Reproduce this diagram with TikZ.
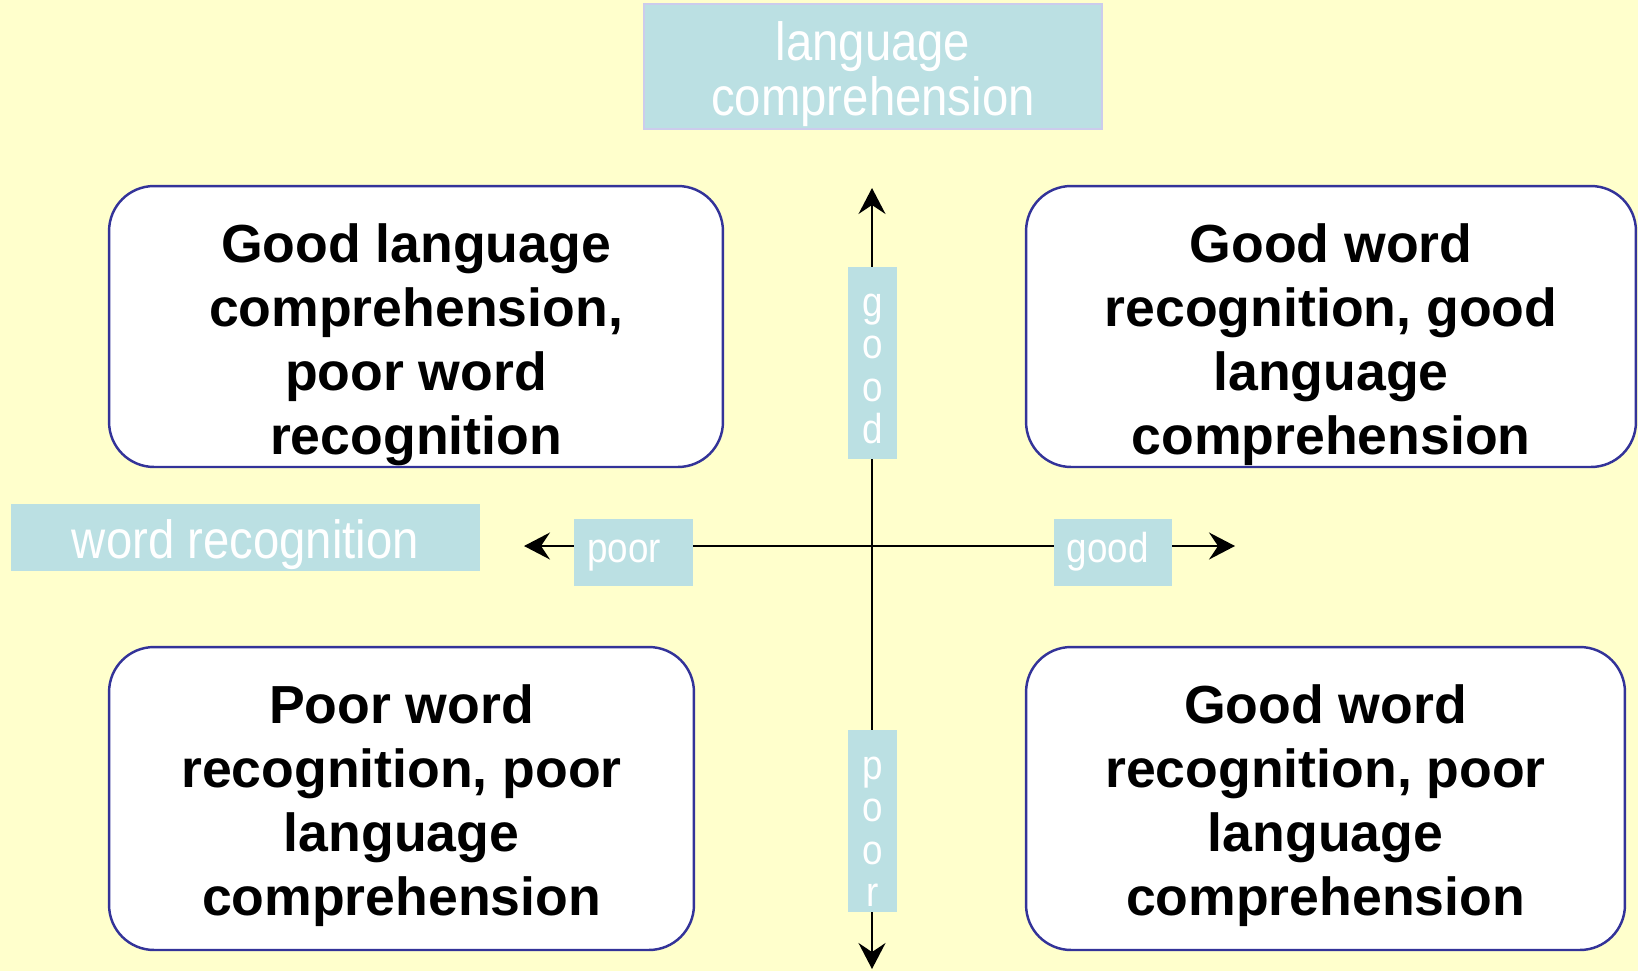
\documentclass[tikz,border=0pt]{standalone}
\usepackage{fontspec}
\setmainfont{Liberation Sans}
\newfontfamily\labelfont[FakeStretch=0.88]{Liberation Sans}
\usetikzlibrary{arrows.meta,positioning}
\definecolor{bgyellow}{RGB}{255,255,204}
\definecolor{labelblue}{RGB}{187,224,227}
\definecolor{labelline}{RGB}{204,204,236}
\definecolor{quadline}{RGB}{51,51,153}
\tikzset{%
    >={Stealth[length=0.52cm,width=0.54cm,inset=0.18cm]},
    % boxes of the four quadrants
    quad-box/.style = {
        rectangle, rounded corners=0.9cm, draw=quadline, line width=1.4pt,
        fill=white
    },
    quad-text/.style = {
        anchor=north, inner sep=0pt, align=center, text=black,
        font=\fontsize{30.5}{36.3}\selectfont\bfseries
    },
    % light blue labels
    blue-tag/.style = {
        rectangle, fill=labelblue, text=white, inner sep=0pt
    },
    axis-tag/.style = {
        blue-tag, text width=1.85cm, inner xsep=0.26cm, align=left,
        text height=0.86cm, text depth=0.48cm,
        font=\labelfont\fontsize{23.8}{24.1}\selectfont
    },
    axis-letters/.style = {
        anchor=north, inner sep=0pt, align=center, text=white,
        font=\labelfont\fontsize{23.8}{24.1}\selectfont
    },
    axis-line/.style = {<->, line width=1.1pt}
}

\begin{document}
\begin{tikzpicture}[x=0.02cm, y=-0.02cm]
    \fill[bgyellow] (0,0) rectangle (1638,971);
    \useasboundingbox (0,0) rectangle (1638,971);

    % axes
    \coordinate (x-left) at (524,546);
    \coordinate (x-right) at (1235,546);
    \coordinate (y-top) at (872,188);
    \coordinate (y-bottom) at (872,969);
    \draw[axis-line] (x-left) -- (x-right);
    \draw[axis-line] (y-top) -- (y-bottom);

    % axis titles
    \node[blue-tag, draw=labelline, line width=0.85pt, minimum width=9.16cm, minimum height=2.5cm] (lang-box) at (873,66.5) {};
    \node[axis-letters, font=\labelfont\fontsize{30.6}{31.2}\selectfont] (lang-text) at ([yshift=-0.36cm]lang-box.north) {language\\comprehension};
    \node[blue-tag, minimum width=9.38cm, text height=1.08cm, text depth=0.26cm, font=\labelfont\fontsize{30.6}{31.2}\selectfont] (word-tag) at (245.5,537.5) {word recognition};

    % ends of the axes
    \node[axis-tag] (poor-x) at (633.5,552.5) {poor};
    \node[axis-tag] (good-x) at (1113,552.5) {good};
    \node[blue-tag, minimum width=0.98cm, minimum height=3.84cm] (good-y) at (872.5,363) {};
    \node[axis-letters] (good-y-text) at ([yshift=-0.54cm]good-y.north) {g\\o\\o\\d};
    \node[blue-tag, minimum width=0.98cm, minimum height=3.64cm] (poor-y) at (872.5,821) {};
    \node[axis-letters] (poor-y-text) at ([yshift=-0.54cm]poor-y.north) {p\\o\\o\\r};

    % quadrants
    \node[quad-box, minimum width=12.28cm, minimum height=5.62cm] (good-lang) at (416,326.5) {};
    \node[quad-text] (good-lang-text) at ([yshift=-0.78cm]good-lang.north) {Good language\\comprehension,\\poor word\\recognition};
    \node[quad-box, minimum width=12.2cm, minimum height=5.62cm] (good-both) at (1331,326.5) {};
    \node[quad-text] (good-both-text) at ([yshift=-0.78cm]good-both.north) {Good word\\recognition, good\\language\\comprehension};
    \node[quad-box, minimum width=11.7cm, minimum height=6.06cm] (poor-both) at (401.5,798.5) {};
    \node[quad-text] (poor-both-text) at ([yshift=-0.78cm]poor-both.north) {Poor word\\recognition, poor\\language\\comprehension};
    \node[quad-box, minimum width=11.98cm, minimum height=6.06cm] (good-word) at (1325.5,798.5) {};
    \node[quad-text] (good-word-text) at ([yshift=-0.78cm]good-word.north) {Good word\\recognition, poor\\language\\comprehension};
\end{tikzpicture}
\end{document}
